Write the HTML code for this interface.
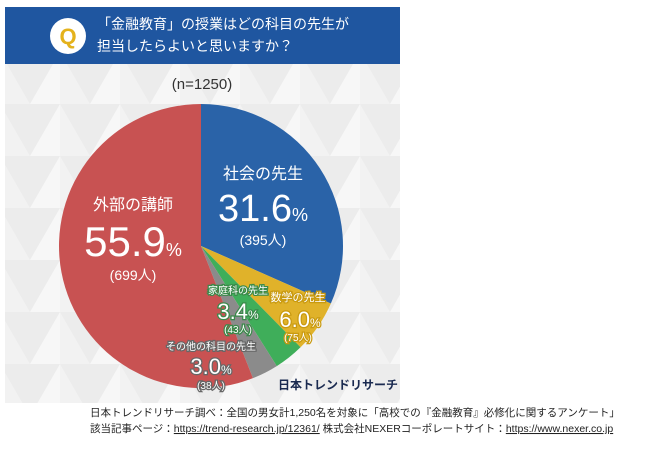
<!DOCTYPE html>
<html><head><meta charset="utf-8"><style>
body{margin:0;width:650px;height:452px;background:#fff;overflow:hidden;font-family:"Liberation Sans","Noto Sans CJK JP",sans-serif;}
svg text{font-family:"Liberation Sans","Noto Sans CJK JP",sans-serif;}
</style></head><body>
<svg width="650" height="452">
<defs><pattern id="tri" width="60" height="52" patternUnits="userSpaceOnUse">
<rect width="60" height="52" fill="#f2f2f2"/><polygon points="0,0 60,0 30,52" fill="#ececec"/><polygon points="30,52 60,0 60,52" fill="#f7f7f7"/></pattern></defs>
<rect x="5" y="63" width="395" height="340" fill="url(#tri)"/>
<rect x="5" y="7" width="395" height="57" fill="#1f56a0"/>
<circle cx="68" cy="36" r="18" fill="#fff"/>
<text x="68" y="44" text-anchor="middle" font-size="22" font-weight="bold" fill="#e4b21c">Q</text>
<text x="97" y="29" font-size="14" fill="#fff">「金融教育」の授業はどの科目の先生が</text>
<text x="97" y="51" font-size="14" fill="#fff">担当したらよいと思いますか？</text>
<text x="202" y="89" text-anchor="middle" font-size="15" fill="#333">(n=1250)</text>
<g id="pie"></g>
<g fill="#fff" text-anchor="middle">
<text x="263" y="179" font-size="16">社会の先生</text>
<text x="263" y="221" font-size="38">31.6<tspan font-size="18">%</tspan></text>
<text x="263" y="245" font-size="14">(395人)</text>
<text x="133" y="210" font-size="16">外部の講師</text>
<text x="133" y="256" font-size="42">55.9<tspan font-size="18">%</tspan></text>
<text x="133" y="280" font-size="14">(699人)</text>
<g stroke="#3a8a4a" stroke-width="2.5" paint-order="stroke">
<text x="238" y="294" font-size="10">家庭科の先生</text>
<text x="238" y="319" font-size="22">3.4<tspan font-size="12">%</tspan></text>
<text x="238" y="333" font-size="10">(43人)</text></g>
<g stroke="#c99a10" stroke-width="2.5" paint-order="stroke">
<text x="298" y="301" font-size="11">数学の先生</text>
<text x="300" y="327" font-size="22">6.0<tspan font-size="12">%</tspan></text>
<text x="298" y="341" font-size="10">(75人)</text></g>
<g stroke="#666" stroke-width="2.5" paint-order="stroke">
<text x="211" y="350" font-size="10">その他の科目の先生</text>
<text x="211" y="374" font-size="22">3.0<tspan font-size="12">%</tspan></text>
<text x="211" y="389" font-size="10">(38人)</text></g>
</g>
<text x="338" y="389" text-anchor="middle" font-size="12" font-weight="bold" fill="#1a2a50">日本トレンドリサーチ</text>
<text x="90" y="416" font-size="10.5" fill="#222">日本トレンドリサーチ調べ：全国の男女計1,250名を対象に「高校での『金融教育』必修化に関するアンケート」</text>
<text x="90" y="432" font-size="10.5" fill="#222">該当記事ページ：<tspan text-decoration="underline">https://trend-research.jp/12361/</tspan>  株式会社NEXERコーポレートサイト：<tspan text-decoration="underline">https://www.nexer.co.jp</tspan></text>
</svg>
<script>
const categories=["社会の先生","数学の先生","家庭科の先生","その他の科目の先生","外部の講師"];
const values=[31.6,6.0,3.4,3.0,55.9];
const colors=["#2a63a8","#e0b22a","#3fae5a","#8b8b8b","#c85252"];
const cx=201,cy=246,r=142;
const g=document.getElementById('pie');
const total=values.reduce((a,b)=>a+b,0);
function pt(f){const a=f*2*Math.PI-Math.PI/2;return [cx+r*Math.cos(a),cy+r*Math.sin(a)];}
let acc=0;
values.forEach((v,i)=>{
 const f0=acc/total;acc+=v;const f1=acc/total;
 const [x0,y0]=pt(f0),[x1,y1]=pt(f1);
 const p=document.createElementNS('http://www.w3.org/2000/svg','path');
 p.setAttribute('d',`M${cx},${cy}L${x0},${y0}A${r},${r} 0 ${f1-f0>0.5?1:0} 1 ${x1},${y1}Z`);
 p.setAttribute('fill',colors[i]);
 
 
 g.appendChild(p);
});
</script>
</body></html>
